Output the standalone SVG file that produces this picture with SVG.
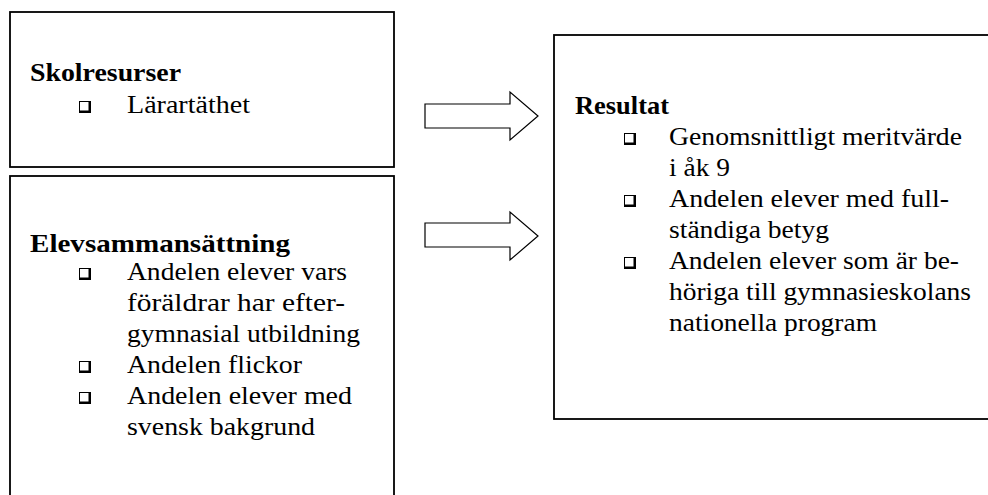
<svg xmlns="http://www.w3.org/2000/svg" xmlns:xlink="http://www.w3.org/1999/xlink" width="988" height="495" viewBox="0 0 988 495">
<style>
.box{fill:#fff;stroke:#000;stroke-width:1.8}
.arrow{fill:#fff;stroke:#000;stroke-width:1.2;stroke-linejoin:miter}
text{font-family:'Liberation Serif',Tinos,'Times New Roman',Times,'Nimbus Roman',FreeSerif,serif;font-size:25px;fill:#000}
.h{font-weight:bold}
</style>
<defs>
<g id="bul">
<rect x="0" y="0" width="12" height="12" fill="#000"/>
<rect x="1" y="1" width="8.5" height="8.5" fill="#fff"/>
</g>
</defs>
<rect width="988" height="495" fill="#fff"/>
<g id="skolresurser">
<rect class="box" x="10" y="12" width="384" height="155"/>
<text class="h" x="30" y="81" textLength="151" lengthAdjust="spacingAndGlyphs">Skolresurser</text>
<use xlink:href="#bul" x="79" y="101"/>
<text x="127" y="113" textLength="123" lengthAdjust="spacingAndGlyphs">Lärartäthet</text>
</g>
<g id="elevsammansattning">
<rect class="box" x="10" y="176" width="384" height="340"/>
<text class="h" x="30" y="252" textLength="260" lengthAdjust="spacingAndGlyphs">Elevsammansättning</text>
<use xlink:href="#bul" x="79" y="268"/>
<text x="127" y="280" textLength="220" lengthAdjust="spacingAndGlyphs">Andelen elever vars</text>
<text x="127" y="311" textLength="218" lengthAdjust="spacingAndGlyphs">föräldrar har efter-</text>
<text x="127" y="342" textLength="233" lengthAdjust="spacingAndGlyphs">gymnasial utbildning</text>
<use xlink:href="#bul" x="79" y="361"/>
<text x="127" y="373" textLength="175" lengthAdjust="spacingAndGlyphs">Andelen flickor</text>
<use xlink:href="#bul" x="79" y="392"/>
<text x="127" y="404" textLength="225" lengthAdjust="spacingAndGlyphs">Andelen elever med</text>
<text x="127" y="435" textLength="188" lengthAdjust="spacingAndGlyphs">svensk bakgrund</text>
</g>
<g id="resultat">
<rect class="box" x="554" y="35" width="450" height="384"/>
<text class="h" x="575" y="114" textLength="94" lengthAdjust="spacingAndGlyphs">Resultat</text>
<use xlink:href="#bul" x="624" y="133"/>
<text x="669" y="145" textLength="293" lengthAdjust="spacingAndGlyphs">Genomsnittligt meritvärde</text>
<text x="669" y="176" textLength="61" lengthAdjust="spacingAndGlyphs">i åk 9</text>
<use xlink:href="#bul" x="624" y="195"/>
<text x="669" y="207" textLength="280" lengthAdjust="spacingAndGlyphs">Andelen elever med full-</text>
<text x="669" y="238" textLength="160" lengthAdjust="spacingAndGlyphs">ständiga betyg</text>
<use xlink:href="#bul" x="624" y="257"/>
<text x="669" y="269" textLength="290" lengthAdjust="spacingAndGlyphs">Andelen elever som är be-</text>
<text x="669" y="300" textLength="302" lengthAdjust="spacingAndGlyphs">höriga till gymnasieskolans</text>
<text x="669" y="331" textLength="208" lengthAdjust="spacingAndGlyphs">nationella program</text>
</g>
<g id="connectors">
<polygon class="arrow" points="425,104 510,104 510,92 538,116 510,140 510,128 425,128"/>
<polygon class="arrow" points="425,223 510,223 510,212 538,236 510,260 510,247 425,247"/>
</g>
</svg>
